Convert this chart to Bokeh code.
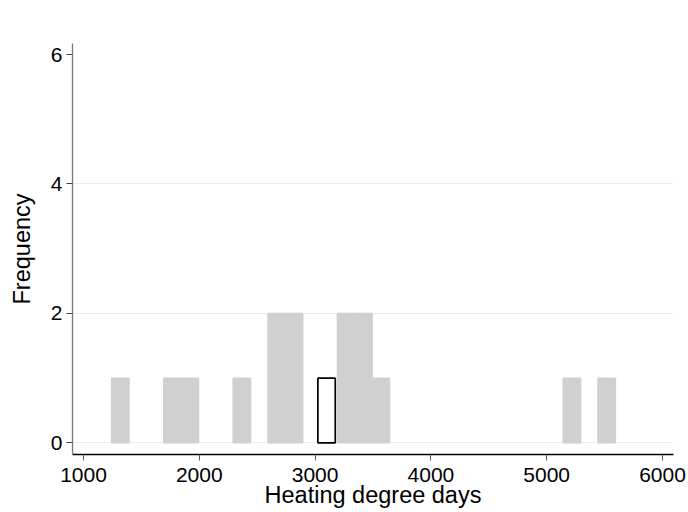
from bokeh.plotting import figure
from bokeh.embed import file_html
from bokeh.resources import INLINE
from bokeh.models import FixedTicker, Range1d

# histogram of heating degree days, bins 150 wide
bin_left = [1243, 1693, 1843, 2293, 2593, 2743, 3193, 3343, 3493, 5143, 5443]
counts = [1, 1, 1, 1, 2, 2, 2, 2, 1, 1, 1]
bin_width = 150

# the single highlighted observation, drawn as an empty bar
hi_left = [3024]
hi_count = [1]

x_ticks = [1000, 2000, 3000, 4000, 5000, 6000]
y_ticks = [0, 2, 4, 6]
grid_ticks = [0, 2, 4]

FONT = "Liberation Sans"

p = figure(width=688, height=512, output_backend="svg", toolbar_location=None,
           x_range=Range1d(905, 6095), y_range=Range1d(-0.18, 6.17),
           min_border_left=72, min_border_right=15, min_border_top=43, min_border_bottom=58)
p.outline_line_color = None
p.background_fill_color = "white"
p.border_fill_color = "white"

p.quad(left=bin_left, right=[l + bin_width for l in bin_left], bottom=0, top=counts,
       fill_color="#d0d0d0", line_color="#d0d0d0", line_width=1.5)
p.quad(left=hi_left, right=[l + bin_width for l in hi_left], bottom=0, top=hi_count,
       fill_color=None, line_color="black", line_width=1.7)

# grid
p.xgrid.grid_line_color = None
p.ygrid.ticker = FixedTicker(ticks=grid_ticks)
p.ygrid.grid_line_color = "#e9eff1"
p.ygrid.grid_line_width = 1

# x axis
p.xaxis.ticker = FixedTicker(ticks=x_ticks)
p.xaxis.axis_label = "Heating degree days"
p.xaxis.axis_line_color = "black"
p.xaxis.axis_line_width = 1.3
p.xaxis.major_tick_line_color = "#555555"
p.xaxis.major_tick_in = 0
p.xaxis.major_tick_out = 6
p.xaxis.minor_tick_line_color = None
p.xaxis.major_label_standoff = 7
p.xaxis.axis_label_standoff = -3

# y axis
p.yaxis.ticker = FixedTicker(ticks=y_ticks)
p.yaxis.axis_label = "Frequency"
p.yaxis.axis_line_color = "#7a7a7a"
p.yaxis.axis_line_width = 1.3
p.yaxis.major_tick_line_color = "#444444"
p.yaxis.major_tick_in = 0
p.yaxis.major_tick_out = 6
p.yaxis.minor_tick_line_color = None
p.yaxis.major_label_standoff = 4
p.yaxis.axis_label_standoff = 13
p.yaxis.major_label_orientation = "horizontal"

for ax in (p.xaxis, p.yaxis):
    ax.major_label_text_font = FONT
    ax.major_label_text_font_size = "21px"
    ax.major_label_text_color = "black"
    ax.axis_label_text_font = FONT
    ax.axis_label_text_font_size = "23.5px"
    ax.axis_label_text_font_style = "normal"
    ax.axis_label_text_color = "black"

open("out.html", "w").write(file_html(p, INLINE))
